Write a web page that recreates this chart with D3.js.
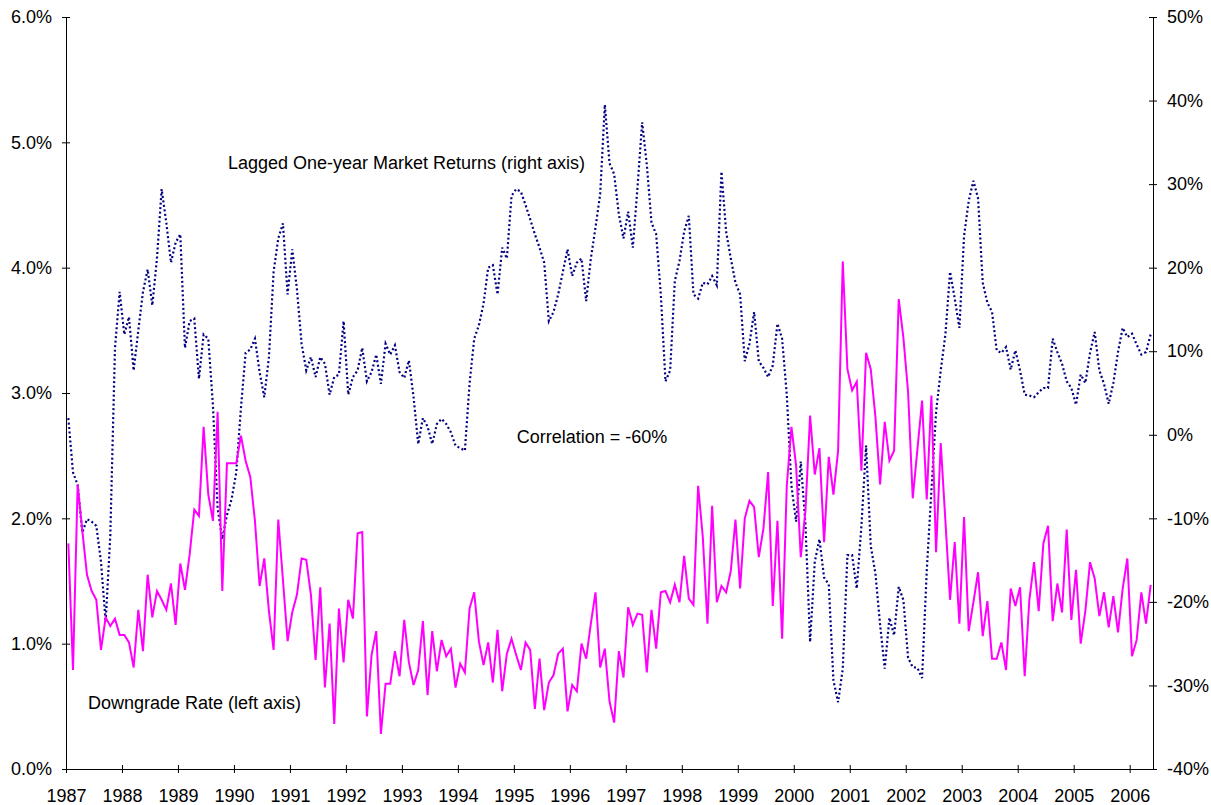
<!DOCTYPE html>
<html>
<head>
<meta charset="utf-8">
<script src="https://cdn.jsdelivr.net/npm/d3@7"></script>
<style>
  body { margin: 0; background: #fff; }
  text { font-family: "Liberation Sans", Arial, sans-serif; fill: #000; }
</style>
</head>
<body>
<main></main>
<script>
// Data: monthly, Jan 1987 - May 2006
const startYear = 1987;
const years = d3.range(1987, 2007);

// Downgrade rate, % (left axis)
const downgrade = [
  1.80, 0.79, 2.27, 1.90, 1.55, 1.42, 1.35, 0.95, 1.21, 1.14, 1.20, 1.07,
  1.07, 1.01, 0.81, 1.27, 0.94, 1.55, 1.21, 1.42, 1.35, 1.27, 1.48, 1.15,
  1.64, 1.43, 1.71, 2.07, 2.02, 2.73, 2.19, 1.98, 2.85, 1.42, 2.44, 2.44,
  2.44, 2.66, 2.46, 2.33, 1.98, 1.46, 1.68, 1.26, 0.95, 1.99, 1.51, 1.02,
  1.25, 1.39, 1.68, 1.67, 1.39, 0.87, 1.45, 0.65, 1.16, 0.36, 1.28, 0.85,
  1.35, 1.20, 1.88, 1.89, 0.42, 0.91, 1.10, 0.28, 0.68, 0.68, 0.94, 0.74,
  1.19, 0.85, 0.67, 0.79, 1.18, 0.59, 1.10, 0.78, 1.03, 0.90, 0.96, 0.65,
  0.84, 0.77, 1.28, 1.41, 1.02, 0.83, 1.01, 0.69, 1.11, 0.62, 0.92, 1.04,
  0.91, 0.79, 1.01, 0.95, 0.48, 0.88, 0.47, 0.69, 0.75, 0.92, 0.96, 0.46,
  0.67, 0.62, 1.00, 0.88, 1.16, 1.41, 0.81, 0.96, 0.54, 0.37, 0.94, 0.73,
  1.29, 1.15, 1.24, 1.23, 0.77, 1.27, 0.96, 1.41, 1.42, 1.33, 1.47, 1.33,
  1.70, 1.36, 1.31, 2.26, 1.85, 1.16, 2.10, 1.33, 1.46, 1.41, 1.58, 1.99,
  1.44, 2.00, 2.14, 2.09, 1.69, 1.92, 2.37, 1.30, 1.98, 1.04, 2.26, 2.73,
  2.42, 1.69, 2.06, 2.82, 2.35, 2.56, 1.81, 2.49, 2.19, 2.54, 4.05, 3.19,
  3.02, 3.09, 2.38, 3.32, 3.19, 2.81, 2.27, 2.77, 2.46, 2.54, 3.75, 3.44,
  3.01, 2.16, 2.55, 2.94, 2.15, 2.98, 1.73, 2.60, 1.98, 1.35, 1.81, 1.16,
  2.01, 1.10, 1.33, 1.57, 1.06, 1.34, 0.88, 0.88, 1.01, 0.79, 1.44, 1.30,
  1.45, 0.74, 1.35, 1.65, 1.26, 1.80, 1.94, 1.18, 1.48, 1.25, 1.91, 1.19,
  1.59, 1.00, 1.26, 1.65, 1.52, 1.22, 1.41, 1.13, 1.38, 1.09, 1.44, 1.68,
  0.90, 1.03, 1.41, 1.16, 1.47
];

// Lagged one-year market returns, % (right axis)
const returns = [
  2.0, -4.5, -6.0, -11.7, -10.1, -10.4, -10.9, -15.2, -22.4, -12.0, 10.4, 17.1,
  12.0, 14.1, 7.7, 12.5, 17.1, 19.8, 15.5, 21.1, 29.4, 25.4, 20.6, 23.0,
  24.0, 10.4, 13.6, 13.9, 6.7, 12.0, 11.5, 3.5, -8.8, -12.5, -9.6, -7.7,
  -4.5, 3.2, 9.8, 10.2, 11.5, 7.5, 4.5, 9.3, 19.5, 23.5, 25.3, 16.8,
  22.2, 17.4, 10.9, 7.7, 9.3, 6.9, 9.3, 8.5, 4.8, 6.9, 7.2, 13.6,
  4.8, 6.9, 7.7, 10.4, 6.4, 7.5, 9.6, 6.1, 10.9, 9.6, 10.7, 7.5,
  6.8, 8.9, 4.5, -1.1, 2.0, 1.0, -1.1, 1.3, 1.9, 1.3, 0.3, -1.3,
  -1.6, -1.9, 6.1, 11.5, 13.1, 15.7, 20.0, 20.3, 16.8, 22.4, 21.1, 28.6,
  29.4, 29.1, 27.5, 25.8, 24.0, 22.4, 20.6, 13.6, 14.7, 16.8, 19.5, 22.2,
  19.0, 20.6, 21.1, 16.0, 21.1, 24.8, 28.8, 39.5, 32.5, 31.2, 26.4, 23.5,
  26.7, 22.4, 29.6, 37.4, 32.3, 25.4, 24.0, 16.8, 6.4, 7.7, 18.4, 20.8,
  24.3, 26.2, 16.8, 16.3, 18.2, 18.0, 19.0, 17.9, 31.5, 24.3, 21.1, 18.2,
  16.8, 8.8, 10.9, 14.7, 8.8, 8.0, 6.9, 8.3, 13.3, 11.5, 4.8, -6.1,
  -10.4, -3.2, -10.7, -24.8, -15.2, -12.5, -17.1, -17.9, -29.4, -32.0, -28.0, -14.4,
  -14.4, -18.4, -10.9, -1.3, -13.3, -16.6, -22.7, -28.0, -21.9, -24.0, -18.2, -19.8,
  -26.7, -27.8, -27.9, -29.1, -16.3, -6.7, 2.7, 7.7, 12.0, 19.5, 16.3, 12.8,
  23.8, 28.0, 30.4, 28.3, 18.2, 15.8, 14.7, 10.1, 9.8, 10.5, 7.8, 10.1,
  7.7, 4.8, 4.7, 4.5, 5.1, 5.6, 5.6, 11.5, 9.9, 8.5, 6.4, 5.6,
  3.6, 7.2, 6.2, 9.8, 12.3, 7.7, 6.1, 3.7, 6.2, 9.9, 12.8, 11.7,
  12.1, 10.8, 9.6, 9.9, 12.0
];

const leftTicks = [0, 1, 2, 3, 4, 5, 6];
const rightTicks = [-40, -30, -20, -10, 0, 10, 20, 30, 40, 50];

// Dimensions
const width = 1211;
const height = 805;
const margin = { top: 17, right: 58, bottom: 36, left: 66 };

const svg = d3.select("main")
  .append("svg")
  .attr("width", width)
  .attr("height", height);

// Scales (x in months since Jan 1987, points sit mid-month)
const nMonths = downgrade.length;
const xScale = d3.scaleLinear()
  .domain([0, nMonths])
  .range([margin.left, width - margin.right]);

const yLeft = d3.scaleLinear()
  .domain([0, 6])
  .range([height - margin.bottom, margin.top]);

const yRight = d3.scaleLinear()
  .domain([-40, 50])
  .range([height - margin.bottom, margin.top]);

// Axes (ticks cross the axis lines)
const fontSize = "18px";

const xAxis = svg.append("g")
  .attr("transform", `translate(0,${height - margin.bottom})`)
  .call(d3.axisBottom(xScale)
    .tickValues(years.map(y => (y - startYear) * 12))
    .tickFormat(d => startYear + d / 12)
    .tickSize(4)
    .tickSizeOuter(0)
    .tickPadding(16));
xAxis.selectAll(".tick line").attr("y1", -4).attr("y2", 4);

const leftAxis = svg.append("g")
  .attr("transform", `translate(${margin.left},0)`)
  .call(d3.axisLeft(yLeft)
    .tickValues(leftTicks)
    .tickFormat(d => d.toFixed(1) + "%")
    .tickSize(4)
    .tickSizeOuter(0)
    .tickPadding(10));
leftAxis.selectAll(".tick line").attr("x1", -4).attr("x2", 4);

const rightAxis = svg.append("g")
  .attr("transform", `translate(${width - margin.right},0)`)
  .call(d3.axisRight(yRight)
    .tickValues(rightTicks)
    .tickFormat(d => d + "%")
    .tickSize(4)
    .tickSizeOuter(0)
    .tickPadding(10));
rightAxis.selectAll(".tick line").attr("x1", -4).attr("x2", 4);

svg.selectAll(".domain, .tick line").attr("stroke", "#000");
svg.selectAll(".tick text")
  .style("font-size", fontSize)
  .style("font-family", "'Liberation Sans', Arial, sans-serif")
  .attr("fill", "#000");

// Lines
const returnsLine = d3.line()
  .x((d, i) => xScale(i + 0.5))
  .y(d => yRight(d));

const downgradeLine = d3.line()
  .x((d, i) => xScale(i + 0.5))
  .y(d => yLeft(d));

svg.append("path")
  .datum(returns)
  .attr("fill", "none")
  .attr("stroke", "#000080")
  .attr("stroke-width", 2.2)
  .attr("stroke-dasharray", "2,2.5")
  .attr("d", returnsLine);

svg.append("path")
  .datum(downgrade)
  .attr("fill", "none")
  .attr("stroke", "#FF00FF")
  .attr("stroke-width", 2)
  .attr("stroke-linejoin", "miter")
  .attr("d", downgradeLine);

// Annotations
svg.append("text")
  .attr("x", xScale(34.7))
  .attr("y", yLeft(4.79))
  .style("font-size", fontSize)
  .text("Lagged One-year Market Returns (right axis)");

svg.append("text")
  .attr("x", xScale(96.6))
  .attr("y", yLeft(2.6))
  .style("font-size", fontSize)
  .text("Correlation = -60%");

svg.append("text")
  .attr("x", xScale(4.7))
  .attr("y", yLeft(0.48))
  .style("font-size", fontSize)
  .text("Downgrade Rate (left axis)");
</script>
</body>
</html>
